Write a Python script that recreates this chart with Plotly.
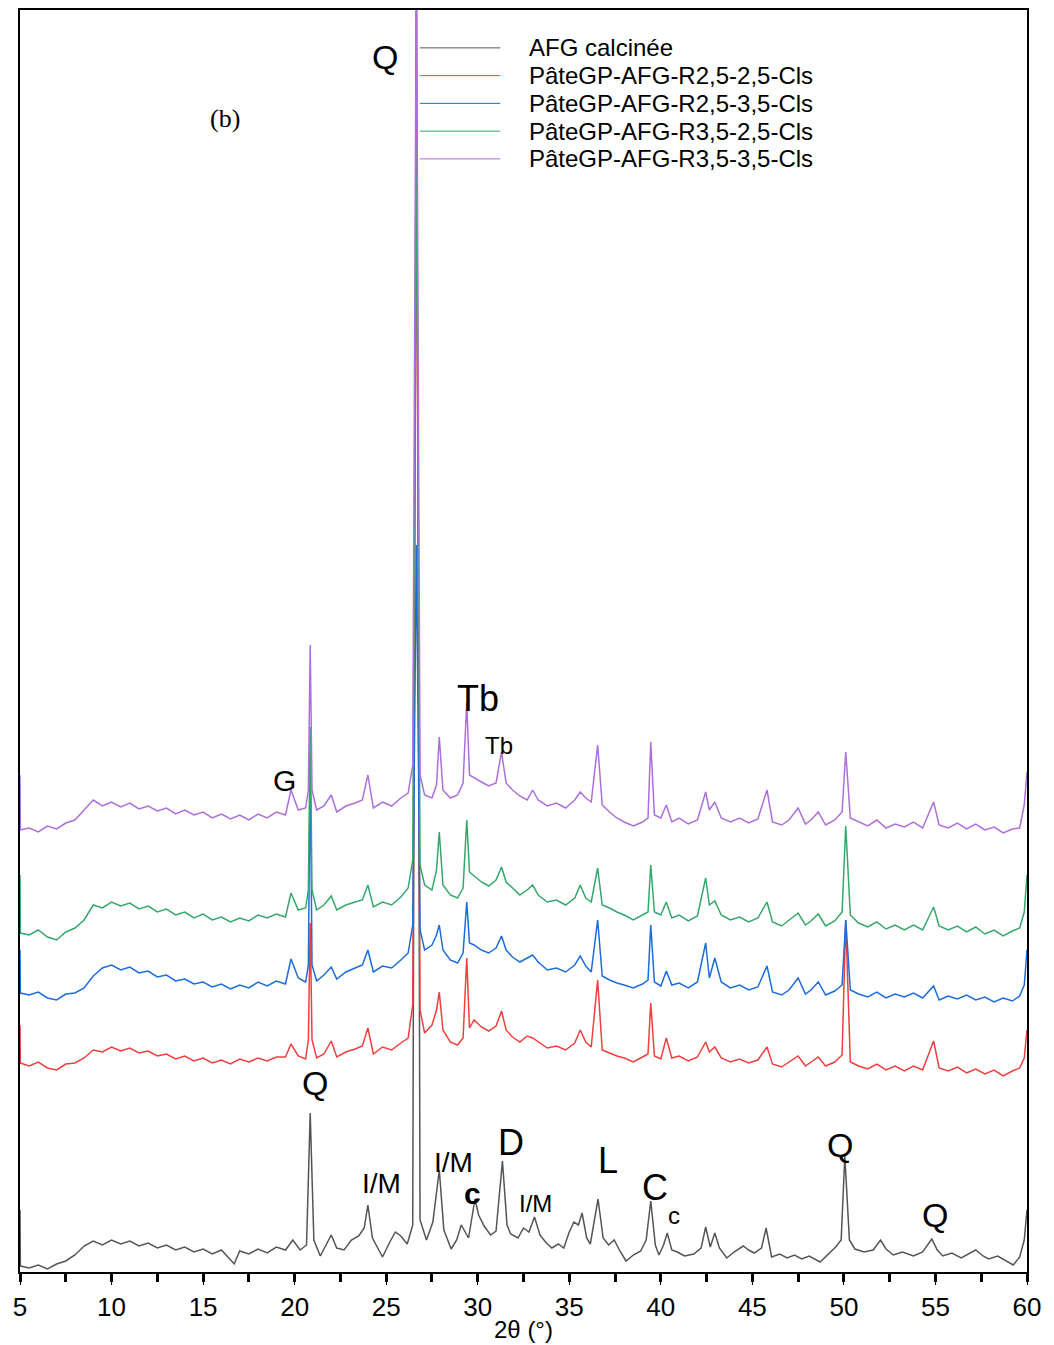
import plotly.graph_objects as go

# ---------------- data (2theta in degrees, intensity in arbitrary stacked units) ----------------
afg_x = [5.0, 5.02, 5.5, 6.0, 6.5, 7.0, 7.5, 8.0, 8.5, 9.0, 9.5, 10.0, 10.5, 11.0, 11.5, 12.0, 12.5, 13.0,
         13.5, 14.0, 14.5, 15.0, 15.5, 16.0, 16.7, 17.0, 17.5, 18.0, 18.5, 19.0, 19.5, 19.9, 20.3, 20.65,
         20.85, 21.05, 21.4, 21.7, 22.0, 22.3, 22.7, 23.1, 23.5, 23.8, 24.0, 24.25, 24.8, 25.2, 25.5, 25.8,
         26.15, 26.45, 26.65, 26.85, 27.2, 27.55, 27.9, 28.15, 28.55, 28.85, 29.1, 29.5, 29.85, 30.05, 30.35,
         30.7, 31.0, 31.35, 31.6, 31.8, 32.2, 32.5, 32.8, 33.1, 33.4, 33.7, 34.05, 34.4, 34.7, 35.0, 35.25,
         35.5, 35.7, 35.95, 36.15, 36.57, 36.85, 37.15, 37.45, 37.8, 38.1, 38.5, 38.9, 39.2, 39.45, 39.7,
         39.9, 40.15, 40.35, 40.6, 40.9, 41.3, 41.8, 42.2, 42.45, 42.7, 42.95, 43.2, 43.6, 44.0, 44.5, 44.8,
         45.1, 45.5, 45.75, 46.05, 46.5, 46.9, 47.3, 47.7, 48.1, 48.7, 49.1, 49.55, 49.85, 50.05, 50.3, 50.6,
         51.1, 51.6, 52.0, 52.3, 52.7, 53.2, 53.8, 54.3, 54.8, 55.1, 55.4, 55.9, 56.4, 56.8, 57.2, 57.6,
         57.9, 58.4, 58.9, 59.25, 59.6, 59.85, 60.0]
afg_y = [62, 6, 4, 7, 3, 8, 11, 17, 26, 31, 27, 32, 28, 31, 26, 29, 24, 27,
         22, 25, 20, 23, 18, 22, 8, 21, 18, 23, 19, 25, 22, 32, 22, 27,
         159, 32, 16, 27, 37, 24, 22, 32, 36, 44, 67, 34, 15, 30, 40, 36,
         28, 47, 1322, 52, 32, 50, 102, 42, 23, 32, 47, 34, 73, 57, 46,
         37, 41, 111, 47, 38, 34, 44, 40, 55, 37, 30, 24, 28, 24, 40, 50,
         47, 59, 34, 28, 73, 34, 27, 32, 20, 11, 17, 21, 32, 71, 27,
         17, 27, 39, 22, 20, 16, 18, 24, 45, 25, 39, 24, 14, 20, 26, 22,
         19, 24, 44, 15, 18, 14, 17, 13, 16, 10, 17, 25, 32, 116, 32, 23,
         20, 22, 32, 23, 17, 20, 16, 20, 33, 22, 16, 19, 14, 18, 22, 16,
         13, 16, 11, 7, 15, 32, 62]

# common sampling used for the four paste patterns
paste_x = [5.0, 5.02, 5.5, 6.0, 6.5, 7.0, 7.5, 8.0, 8.5, 9.0, 9.5, 10.0, 10.5, 11.0, 11.5, 12.0, 12.5, 13.0,
           13.5, 14.0, 14.5, 15.0, 15.5, 16.0, 16.5, 17.0, 17.5, 18.0, 18.5, 19.0, 19.5, 19.8, 20.2, 20.6,
           20.75, 20.85, 20.95, 21.2, 21.6, 22.0, 22.3, 22.8, 23.3, 23.7, 24.0, 24.3, 24.8, 25.3, 25.8, 26.2,
           26.45, 26.65, 26.85, 27.1, 27.5, 27.75, 27.9, 28.1, 28.5, 28.9, 29.2, 29.4, 29.55, 29.8, 30.2,
           30.6, 31.0, 31.3, 31.55, 31.9, 32.3, 32.7, 33.0, 33.3, 33.8, 34.3, 34.8, 35.3, 35.6, 35.9, 36.2,
           36.55, 36.8, 37.2, 37.6, 38.0, 38.5, 39.0, 39.3, 39.45, 39.65, 40.0, 40.3, 40.6, 41.0, 41.5, 42.0,
           42.45, 42.65, 42.95, 43.3, 43.8, 44.3, 44.8, 45.3, 45.8, 46.1, 46.6, 47.0, 47.5, 47.9, 48.2, 48.6,
           49.0, 49.5, 49.9, 50.1, 50.35, 50.8, 51.3, 51.8, 52.3, 52.8, 53.3, 53.8, 54.3, 54.9, 55.2, 55.7,
           56.2, 56.7, 57.2, 57.7, 58.2, 58.7, 59.2, 59.6, 59.85, 60.0]

r25_25_y = [247, 209, 206, 210, 204, 202, 208, 209, 214, 222, 220, 225, 221, 224, 219, 221, 216, 218,
            213, 216, 211, 214, 209, 212, 208, 213, 210, 214, 211, 215, 215, 228, 216, 213,
            232, 349, 232, 214, 218, 231, 215, 220, 223, 226, 244, 218, 225, 222, 229, 234,
            267, 1142, 262, 239, 247, 262, 280, 242, 230, 227, 234, 314, 244, 252, 245,
            241, 246, 261, 242, 235, 230, 236, 234, 230, 224, 226, 222, 229, 242, 230, 225,
            292, 222, 219, 216, 214, 210, 215, 218, 269, 216, 213, 234, 214, 216, 211, 215,
            230, 220, 225, 214, 210, 213, 209, 212, 225, 208, 205, 210, 216, 206, 210, 215,
            206, 210, 217, 352, 210, 206, 203, 208, 202, 206, 201, 206, 202, 231, 204, 201,
            205, 199, 203, 198, 202, 196, 201, 204, 214, 242]

r25_35_y = [322, 279, 277, 280, 274, 272, 278, 279, 284, 296, 304, 307, 302, 305, 299, 301, 295, 297,
            291, 293, 288, 290, 285, 288, 283, 287, 284, 290, 286, 291, 288, 313, 294, 290,
            307, 512, 307, 291, 297, 305, 293, 300, 304, 307, 322, 300, 306, 304, 312, 319,
            347, 727, 342, 322, 327, 337, 347, 322, 312, 309, 319, 370, 329, 327, 322,
            319, 324, 336, 322, 315, 310, 314, 317, 310, 302, 304, 300, 307, 316, 306, 300,
            352, 296, 292, 289, 287, 284, 288, 292, 347, 290, 286, 301, 287, 289, 284, 290,
            329, 294, 314, 290, 284, 287, 282, 285, 306, 280, 277, 282, 294, 278, 282, 290,
            277, 281, 287, 352, 282, 278, 275, 280, 274, 278, 275, 279, 274, 286, 272, 276,
            273, 277, 272, 275, 270, 274, 271, 276, 287, 322]

r35_25_y = [397, 339, 337, 342, 335, 332, 340, 344, 352, 367, 364, 370, 366, 369, 363, 366, 360, 363,
            357, 360, 354, 358, 352, 355, 350, 354, 351, 357, 354, 358, 355, 379, 362, 364,
            382, 545, 382, 362, 367, 376, 362, 367, 370, 372, 387, 365, 370, 367, 375, 384,
            412, 1132, 407, 387, 382, 402, 440, 387, 377, 374, 384, 452, 400, 396, 390,
            386, 392, 405, 390, 384, 377, 382, 387, 377, 370, 372, 367, 374, 387, 374, 370,
            404, 367, 364, 360, 357, 352, 357, 360, 407, 360, 357, 370, 354, 357, 351, 356,
            394, 367, 371, 357, 352, 355, 350, 354, 370, 350, 346, 352, 359, 347, 351, 358,
            346, 351, 360, 446, 357, 349, 345, 350, 343, 347, 342, 347, 342, 365, 346, 342,
            346, 340, 345, 338, 342, 336, 341, 344, 360, 397]

r35_35_y = [497, 442, 444, 440, 446, 443, 449, 452, 462, 472, 466, 470, 465, 469, 463, 466, 461, 464,
            458, 462, 457, 460, 454, 458, 453, 457, 452, 458, 454, 460, 457, 482, 462, 464,
            482, 627, 482, 462, 466, 477, 460, 466, 469, 472, 497, 464, 470, 466, 474, 479,
            507, 1322, 497, 477, 474, 487, 535, 482, 474, 477, 489, 570, 497, 494, 490,
            486, 489, 520, 489, 482, 476, 472, 482, 472, 466, 469, 464, 472, 480, 474, 470,
            527, 467, 460, 454, 450, 446, 450, 454, 530, 457, 454, 467, 450, 454, 448, 452,
            480, 462, 470, 454, 450, 454, 449, 453, 482, 450, 447, 452, 464, 448, 452, 460,
            447, 452, 460, 520, 454, 450, 446, 452, 444, 448, 445, 450, 444, 470, 447, 444,
            449, 443, 448, 442, 445, 439, 443, 444, 467, 500]

series_names = ["AFG calcinée", "PâteGP-AFG-R2,5-2,5-Cls", "PâteGP-AFG-R2,5-3,5-Cls",
                "PâteGP-AFG-R3,5-2,5-Cls", "PâteGP-AFG-R3,5-3,5-Cls"]
series_x = [afg_x, paste_x, paste_x, paste_x, paste_x]
series_y = [afg_y, r25_25_y, r25_35_y, r35_25_y, r35_35_y]
colors = ["#555555", "#ef3f3f", "#1c6ddc", "#34a86a", "#ad6fdc"]

# phase labels: (text, 2theta, intensity, font size)
label_text = ["Q", "Tb", "Tb", "G", "Q", "I/M", "I/M", "c", "D", "I/M", "L", "C", "c", "Q", "Q"]
label_x = [24.93, 30.01, 31.16, 19.47, 21.11, 24.77, 28.70, 29.74, 31.82, 33.13, 37.11, 39.68, 40.72, 49.78, 54.97]
label_y = [1215, 574, 527, 492, 189, 89, 110, 79, 130, 69, 112, 85, 57, 127, 57]
label_size = [34, 36, 24, 30, 34, 28, 28, 30, 36, 24, 36, 36, 24, 34, 34]

x_ticks = [5, 10, 15, 20, 25, 30, 35, 40, 45, 50, 55, 60]

# ---------------- figure ----------------
fig = go.Figure()
for name, xs, ys, col in zip(series_names, series_x, series_y, colors):
    fig.add_trace(go.Scatter(x=xs, y=ys, mode="lines", name=name,
                             line=dict(color=col, width=1.5), showlegend=False))

SANS = "Liberation Sans, Arial, sans-serif"
annotations = []
for t, lx, ly, fs in zip(label_text, label_x, label_y, label_size):
    txt = "<b>%s</b>" % t if t == "c" and fs > 26 else t
    annotations.append(dict(x=lx, y=ly, xref="x", yref="y", text=txt, showarrow=False,
                            font=dict(family=SANS, size=fs, color="black")))
annotations.append(dict(x=16.2, y=1154, xref="x", yref="y", text="(b)", showarrow=False,
                        font=dict(family="Liberation Serif, Times New Roman, serif", size=26, color="black")))

# legend drawn as line samples + text in the upper right corner
shapes = []
leg_rows = [0.970, 0.948, 0.926, 0.904, 0.882]
for name, col, ry in zip(series_names, colors, leg_rows):
    shapes.append(dict(type="line", xref="paper", yref="paper", x0=0.397, x1=0.477, y0=ry, y1=ry,
                       line=dict(color=col, width=1)))
    annotations.append(dict(x=0.503, y=ry, xref="paper", yref="paper", text=name, showarrow=False,
                            xanchor="left", yanchor="middle",
                            font=dict(family=SANS, size=24, color="black")))

# the page body has an 8px default margin, so the figure is sized to fill the rest of the window
fig.update_layout(
    width=1046, height=1337,
    margin=dict(l=12, r=27, t=2, b=73),
    paper_bgcolor="white", plot_bgcolor="white",
    showlegend=False,
    annotations=annotations, shapes=shapes,
    xaxis=dict(range=[5, 60], tickvals=x_ticks, ticktext=[str(v) for v in x_ticks],
               automargin=False,
               ticks="outside", ticklen=11, tickwidth=1, tickcolor="black",
               minor=dict(dtick=2.5, tick0=2.5, ticks="outside", ticklen=8, tickwidth=3, tickcolor="black"),
               showline=True, mirror=True, linecolor="black", linewidth=2,
               showgrid=False, zeroline=False,
               tickfont=dict(family=SANS, size=26, color="black"),
               title=dict(text="2θ (°)", standoff=0, font=dict(family=SANS, size=24, color="black"))),
    yaxis=dict(range=[0, 1262], showticklabels=False, ticks="", showgrid=False, zeroline=False,
               automargin=False,
               showline=True, mirror=True, linecolor="black", linewidth=2),
)

fig.write_html("out.html")
